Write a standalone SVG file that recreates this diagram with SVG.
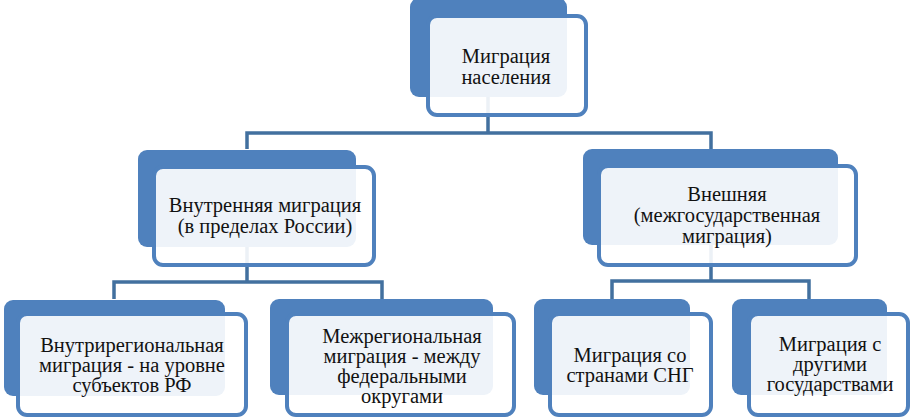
<svg xmlns="http://www.w3.org/2000/svg" width="911" height="419" viewBox="0 0 911 419">
<style>
.back{fill:#4f81bd}
.front{fill:#ffffff;fill-opacity:0.9;stroke:#4f81bd;stroke-width:4}
.conn{fill:none;stroke:#42709f;stroke-width:3.5;stroke-linejoin:miter}
.t{font-family:'Liberation Serif','Times New Roman','DejaVu Serif',serif;font-size:20.5px;fill:#111;text-anchor:middle}
</style>
<rect width="911" height="419" fill="#ffffff"/>
<g id="connectors">
<path class="conn" d="M488,97 V133 M247,149 V133 H711 V149"/>
<path class="conn" d="M247,247 V282 M114,299 V282 H382 V299"/>
<path class="conn" d="M711,245 V281 M612,299 V281 H809 V299"/>
</g>
<g id="node-root">
<rect class="back" x="410" y="-2" width="157" height="99" rx="9"/>
<rect class="front" x="428" y="16" width="158" height="99" rx="9"/>
<text class="t" x="506" y="63">Миграция</text>
<text class="t" x="506" y="84">населения</text>
</g>
<g id="node-internal">
<rect class="back" x="138" y="150" width="218" height="97" rx="9"/>
<rect class="front" x="154" y="167" width="220" height="98" rx="9"/>
<text class="t" x="265" y="212">Внутренняя миграция</text>
<text class="t" x="265" y="233">(в пределах России)</text>
</g>
<g id="node-external">
<rect class="back" x="583" y="149" width="255" height="96" rx="9"/>
<rect class="front" x="599" y="166" width="257" height="99" rx="9"/>
<text class="t" x="727" y="201">Внешняя</text>
<text class="t" x="727" y="222">(межгосударственная</text>
<text class="t" x="727" y="243">миграция)</text>
</g>
<g id="node-intraregional">
<rect class="back" x="4" y="300" width="221" height="96" rx="9"/>
<rect class="front" x="18" y="314" width="228" height="101" rx="9"/>
<text class="t" x="132" y="352">Внутрирегиональная</text>
<text class="t" x="132" y="372">миграция - на уровне</text>
<text class="t" x="132" y="392">субъектов РФ</text>
</g>
<g id="node-interregional">
<rect class="back" x="270" y="299" width="223" height="96" rx="9"/>
<rect class="front" x="287" y="314" width="227" height="101" rx="9"/>
<text class="t" x="402" y="343">Межрегиональная</text>
<text class="t" x="402" y="363">миграция - между</text>
<text class="t" x="402" y="383">федеральными</text>
<text class="t" x="402" y="403">округами</text>
</g>
<g id="node-cis">
<rect class="back" x="534" y="299" width="156" height="96" rx="9"/>
<rect class="front" x="550" y="314" width="161" height="101" rx="9"/>
<text class="t" x="630" y="362">Миграция со</text>
<text class="t" x="630" y="382">странами СНГ</text>
</g>
<g id="node-other">
<rect class="back" x="732" y="299" width="155" height="96" rx="9"/>
<rect class="front" x="749" y="314" width="159" height="101" rx="9"/>
<text class="t" x="830" y="351">Миграция с</text>
<text class="t" x="830" y="371">другими</text>
<text class="t" x="830" y="391">государствами</text>
</g>
</svg>
